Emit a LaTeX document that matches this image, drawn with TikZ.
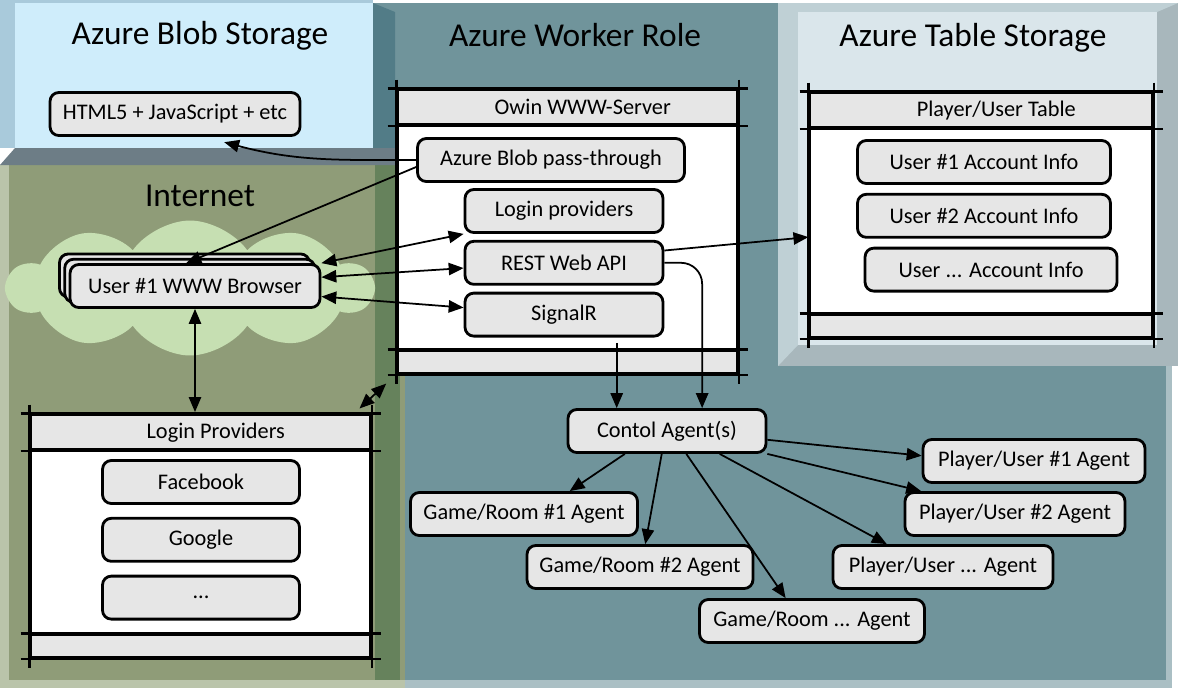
\documentclass[tikz,border=0pt]{standalone}
\usepackage{fontspec}
\setmainfont{Carlito}
\usetikzlibrary{matrix,positioning,shapes.symbols,shadows,arrows.meta}
\definecolor{kastengrau}{HTML}{E6E6E6}
\definecolor{blobblau}{HTML}{CFEDFB}
\definecolor{blobrand}{HTML}{A9CADB}
\definecolor{blobschatten}{HTML}{6D7D86}
\definecolor{netzgruen}{HTML}{8F9C78}
\definecolor{netzrand}{HTML}{BAC4AA}
\definecolor{netzdunkel}{HTML}{66825C}
\definecolor{wolkengruen}{HTML}{C6DFB2}
\definecolor{worker}{HTML}{70949B}
\definecolor{workerrand}{HTML}{527C87}
\definecolor{workerhell}{HTML}{AABFC4}
\definecolor{tabblau}{HTML}{DAE6EB}
\definecolor{tabrand}{HTML}{BFD0D5}
\definecolor{tabschatten}{HTML}{A8B7BC}
\newcommand\normaltext{\fontsize{12.7}{15}\selectfont}
\tikzset{
  tab/.style={inner sep=0pt,line width=1.6pt,
    nodes={inner sep=.3em,minimum height=.7cm}
  },
  vtab/.style={matrix of nodes,tab,
    row sep=-1.6pt,
    nodes in empty cells,% auch leere Zellen zeichnen
    nodes={draw,minimum width=#1,font=\normaltext},
    row 1/.style={nodes={fill=kastengrau,execute at begin node={\hspace*{.6cm}}}},
    row 3/.style={nodes={fill=kastengrau,minimum height=.46cm}}
  },
  vtab/.default=6.8cm,% Breite der Tabellen
  rumpf/.style={fill=white,minimum height=#1},
  % überstehende Striche wie von Hand gezeichnet
  strich/.style={line width=1.3pt,shorten <=-5pt,shorten >=-5pt},
  kasten/.style={draw,line width=1.6pt,rounded corners=5pt,fill=kastengrau,
    minimum height=.86cm,minimum width=#1,inner sep=2pt,font=\normaltext},
  kasten/.default=3.96cm,
  titel/.style={font=\fontsize{19}{22}\selectfont},
  einweg/.style={line width=1pt,-{Triangle[length=8.5pt,width=7pt]}},
  zweiweg/.style={einweg,{Triangle[length=8.5pt,width=7pt]}-{Triangle[length=8.5pt,width=7pt]}}
}
\begin{document}
\begin{tikzpicture}[x=.02cm,y=-.02cm,
  % Abstand der Kästen untereinander:
  node distance=.12cm
]
\useasboundingbox (0,0) rectangle (1181,691);
% Flächen
  \fill[workerhell] (373,3) rectangle (1172,688);
  \fill[worker] (373,3) rectangle (1166,680);
  \fill[workerrand] (373,3) -- (395,12) -- (395,680) -- (373,680) -- cycle;
  \fill[netzrand] (0,165) rectangle (405,688);
  \fill[netzgruen] (9,165) rectangle (405,680);
  \fill[netzdunkel] (375,165) rectangle (400,680);
  \fill[blobrand] (0,0) rectangle (373,148);
  \fill[blobblau] (15,3) rectangle (373,148);
  \fill[blobschatten] (0,165) -- (15,148) -- (395,148) -- (395,165) -- cycle;
  \fill[tabschatten] (778,3) rectangle (1178,366);
  \fill[tabrand] (778,3) -- (1178,3) -- (1157,12) -- (798,12) -- (798,345) -- (778,366) -- cycle;
  \fill[tabblau] (798,12) rectangle (1157,345);
  \node(wolke)[cloud,fill=wolkengruen,cloud puffs=10,cloud puff arc=110,aspect=2.7,
    minimum width=7.3cm,minimum height=2.7cm] at (190,288) {};
% Überschriften
  \foreach \n/\pos/\bez in {tb/{(200,36)}/Azure Blob Storage,ti/{(200,196)}/Internet,
      tw/{(575,35)}/Azure Worker Role,tt/{(973,38)}/Azure Table Storage}
    \node[titel](\n) at \pos {\bez};
% Tabellen
  \matrix(O)[vtab,anchor=north west] at (395,87) {Owin WWW-Server\\ |[rumpf=4.52cm]|\\ \\};
  \matrix(T)[vtab=6.86cm,anchor=north west] at (807,90) {Player/User Table\\ |[rumpf=3.74cm]|\\ \\};
  \matrix(L)[vtab,anchor=north west] at (28,412) {Login Providers\\ |[rumpf=3.7cm]|\\ \\};
  \foreach \t in {O,T,L} {
    \foreach \z/\a in {1/north,1/south,3/north,3/south}
      \draw[strich] (\t-\z-1.\a -| \t-1-1.west) -- (\t-\z-1.\a -| \t-1-1.east);
    \draw[strich] (\t-1-1.north west) -- (\t-3-1.south west);
    \draw[strich] (\t-1-1.north east) -- (\t-3-1.south east);
  }
% Kästen
  \node(html)[kasten=5cm] at (175,114) {HTML5 + JavaScript + etc};
  \node(browser)[kasten=5cm,double copy shadow={shadow xshift=-3pt,shadow yshift=3pt}]
    at (195,286) {User \#1 WWW Browser};
  \node(pass)[kasten=5.34cm] at (551,160) {Azure Blob pass-through};
  \node(login)[kasten] at (564,211) {Login providers};
  \node(rest)[kasten,below=of login] {REST Web API};
  \node(sigr)[kasten,below=of rest] {SignalR};
  \node(u1)[kasten=5.06cm] at (984,162) {User \#1 Account Info};
  \node(u2)[kasten=5.06cm,below=.16cm of u1] {User \#2 Account Info};
  \node(u3)[kasten=5.04cm,below=.16cm of u2,xshift=4pt] {User ... Account Info};
  \node(fb)[kasten=3.94cm] at (201,482) {Facebook};
  \node(gg)[kasten=3.94cm,below=.24cm of fb] {Google};
  \node(etc)[kasten=3.94cm,below=.24cm of gg] {...};
  \node(ctrl)[kasten] at (667,431) {Contol Agent(s)};
  \node(g1)[kasten=4.54cm] at (524,514) {Game/Room \#1 Agent};
  \node(g2)[kasten=4.52cm] at (640,567) {Game/Room \#2 Agent};
  \node(g3)[kasten=4.5cm] at (812,621) {Game/Room ... Agent};
  \node(p1)[kasten=4.44cm] at (1034,461) {Player/User \#1 Agent};
  \node(p2)[kasten=4.4cm] at (1015,514) {Player/User \#2 Agent};
  \node(p3)[kasten=4.4cm] at (943,567) {Player/User ... Agent};
% Verbindungen
  \draw[einweg] (pass.west) to[out=180,in=-15] ([xshift=28pt,yshift=-3pt]html.south);
  \draw[einweg] ([yshift=-4pt]pass.west) -- ([xshift=-5pt]browser.north);
  \path[zweiweg] (browser.north east) edge (login.south west);
  \path[zweiweg] ([yshift=5pt]browser.east) edge ([yshift=-3pt]rest.west);
  \path[zweiweg] ([yshift=-6pt]browser.east) edge ([yshift=4pt]sigr.west);
  \path[zweiweg] (browser.south) edge (browser.south|-L.north);
  \path[zweiweg] ([xshift=-8pt,yshift=2pt]L.north east) edge ([xshift=-5pt,yshift=-4pt]O.south west);
  \path[einweg] ([yshift=7pt]rest.east) edge ([yshift=-9pt]T-2-1.west);
  \draw[einweg,rounded corners=12pt] (rest.east) -| ([xshift=20pt]ctrl.north);
  \coordinate (s) at ([xshift=30pt,yshift=-3pt]sigr.south);
  \draw[einweg] (s) -- (s|-ctrl.north);
  % Agenten
  \path[einweg] ([xshift=-24pt]ctrl.south) edge ([xshift=26pt]g1.north);
  \path[einweg] ([xshift=-3pt]ctrl.south) edge ([xshift=3pt]g2.north);
  \path[einweg] ([xshift=11pt]ctrl.south) edge ([xshift=-15pt]g3.north);
  \path[einweg] ([xshift=30pt]ctrl.south) edge ([xshift=-32pt]p3.north);
  \path[einweg] (ctrl.south east) edge ([xshift=10pt]p2.north west);
  \path[einweg] ([yshift=-5pt]ctrl.east) edge ([yshift=3pt]p1.west);
\end{tikzpicture}
\end{document}
